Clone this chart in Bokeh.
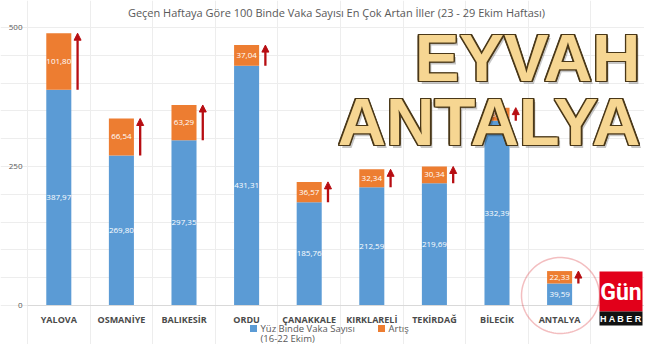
import numpy as np
from bokeh.plotting import figure
from bokeh.models import (ColumnDataSource, Range1d, FixedTicker, Label, Arrow, NormalHead,
                          BoxAnnotation, PolyAnnotation, LabelSet)
from bokeh.core.properties import value
from bokeh.embed import file_html
from bokeh.resources import INLINE

title = "Geçen Haftaya Göre 100 Binde Vaka Sayısı En Çok Artan İller (23 - 29 Ekim Haftası)"
cities = ["YALOVA", "OSMANİYE", "BALIKESİR", "ORDU", "ÇANAKKALE",
          "KIRKLARELİ", "TEKİRDAĞ", "BİLECİK", "ANTALYA"]
base = [387.97, 269.80, 297.35, 431.31, 185.76, 212.59, 219.69, 332.39, 39.59]
increase = [101.80, 66.54, 63.29, 37.04, 36.57, 32.34, 30.34, 23.50, 22.33]
y_ticks = [0, 250, 500]
legend_labels = ["Yüz Binde Vaka Sayısı", "(16-22 Ekim)", "Artış"]
headline = ["EYVAH", "ANTALYA"]

BLUE = "#5B9BD5"
ORANGE = "#ED7D31"
ARROW = "#B70D12"
GREY = "#595959"

idx = np.arange(len(cities))
base_a = np.array(base)
inc_a = np.array(increase)
total = base_a + inc_a
fmt = lambda v: f"{v:.2f}".replace(".", ",")

src = ColumnDataSource(dict(
    x=idx, base=base_a, total=total, inc=inc_a,
    base_mid=base_a / 2, inc_mid=base_a + inc_a / 2,
    base_txt=[fmt(v) for v in base], inc_txt=[fmt(v) for v in increase],
    ax=idx + 0.3,
))

# frame covers the whole figure; plot area placed through the ranges
W, H = 644, 344
slot = 62.6            # px per category
left_px, top_px, zero_px = 27, 27, 305
ppu = (zero_px - top_px) / 500.0
x0 = -0.5 - left_px / slot
y0 = -(H - zero_px) / ppu
p = figure(width=W, height=H, x_range=Range1d(x0, x0 + W / slot),
           y_range=Range1d(y0, y0 + H / ppu),
           output_backend="svg", toolbar_location=None,
           min_border_left=0, min_border_right=0, min_border_top=0, min_border_bottom=0)
p.outline_line_color = None
p.background_fill_color = "white"

# grid
p.ygrid.ticker = FixedTicker(ticks=list(range(0, 501, 50)))
p.ygrid.grid_line_color = "#EDEDED"
p.ygrid.bounds = (-0.5, 9.5)
p.xgrid.ticker = FixedTicker(ticks=[k - 0.5 for k in range(11)])
p.xgrid.grid_line_color = "#EDEDED"
p.xgrid.bounds = (0, 500)

# axes
p.yaxis.fixed_location = -0.5
p.yaxis.ticker = FixedTicker(ticks=y_ticks)
p.yaxis.axis_line_color = None
p.yaxis.major_tick_line_color = None
p.yaxis.minor_tick_line_color = None
p.yaxis.major_tick_out = 0
p.yaxis.minor_tick_out = 0
p.yaxis.major_label_standoff = 5
p.yaxis.major_label_text_font = "Open Sans"
p.yaxis.major_label_text_font_size = "8px"
p.yaxis.major_label_text_color = GREY

p.xaxis.fixed_location = 0
p.xaxis.bounds = (-0.5, 9.5)
p.xaxis.ticker = FixedTicker(ticks=list(idx))
p.xaxis.major_label_overrides = {int(i): c for i, c in zip(idx, cities)}
p.xaxis.axis_line_color = "#D9D9D9"
p.xaxis.major_tick_line_color = None
p.xaxis.minor_tick_line_color = None
p.xaxis.major_tick_out = 0
p.xaxis.minor_tick_out = 0
p.xaxis.major_label_standoff = 7
p.xaxis.major_label_text_font = "Open Sans"
p.xaxis.major_label_text_font_size = "9px"
p.xaxis.major_label_text_font_style = "bold"
p.xaxis.major_label_text_color = "#4A4A4A"

# bars
p.vbar(x="x", width=0.4, bottom=0, top="base", source=src, fill_color=BLUE, line_color=None)
p.vbar(x="x", width=0.4, bottom="base", top="total", source=src, fill_color=ORANGE, line_color=None)

for col, txt in (("base_mid", "base_txt"), ("inc_mid", "inc_txt")):
    p.add_layout(LabelSet(x="x", y=col, text=txt, source=src, text_align="center",
                          text_baseline="middle", text_color="white",
                          text_font=value("Open Sans"), text_font_size="8px"))

# arrows
p.add_layout(Arrow(x_start="ax", y_start="base", x_end="ax", y_end="total", source=src,
                   line_color=ARROW, line_width=2.3,
                   end=NormalHead(size=7, fill_color=ARROW, line_color=ARROW)))

# helper: pixel (from top-left) -> frame screen coords
def S(X, Y):
    return X, H - Y

def label(X, Y, text, **kw):
    sx, sy = S(X, Y)
    p.add_layout(Label(x=sx, y=sy, x_units="screen", y_units="screen", text=text, **kw))

def box(X1, X2, Y1, Y2, colr):
    l, t = S(X1, Y1)
    r, b = S(X2, Y2)
    p.add_layout(BoxAnnotation(left=l, right=r, bottom=b, top=t,
                               left_units="screen", right_units="screen",
                               bottom_units="screen", top_units="screen",
                               fill_color=colr, fill_alpha=1, line_color=None))

# title
label(336, 12, title, text_align="center", text_baseline="middle", text_font="Open Sans",
      text_font_size="11px", text_color=GREY)

# legend (manual)
box(249.5, 256.5, 324.5, 331.5, BLUE)
box(377.5, 384.5, 324.5, 331.5, ORANGE)
for txt, X, Y in ((legend_labels[0], 260, 328), (legend_labels[1], 260, 338),
                  (legend_labels[2], 388, 328)):
    label(X, Y, txt, text_align="left", text_baseline="middle", text_font="Open Sans",
          text_font_size="9.5px", text_color=GREY)

# red circle around ANTALYA
t = np.linspace(0, 2 * np.pi, 120)
cx, cy = S(560, 295)
p.add_layout(PolyAnnotation(xs=list(cx + 39 * np.cos(t)), ys=list(cy + 38 * np.sin(t)),
                            xs_units="screen", ys_units="screen",
                            fill_alpha=0, line_color="#D8282E", line_width=1.5))

# Gün Haber logo
box(599, 642, 271, 311, "#E2001A")
box(599, 642, 311, 325, "#111111")
label(620.5, 292, "Gün", text_align="center", text_baseline="middle",
      text_font="Roboto", text_font_style="bold",
      text_font_size="23px", text_color="white")
label(620.5, 318.5, "H A B E R", text_align="center", text_baseline="middle",
      text_font="Liberation Sans", text_font_style="bold",
      text_font_size="9px", text_color="white")

# headline overlay with outline
def outlined(text, X, Y):
    sx, sy = S(X, Y)
    common = dict(x=sx, y=sy, x_units="screen", y_units="screen", text=text,
                  text_align="right", text_baseline="middle",
                  text_font="Liberation Sans", text_font_style="bold", text_font_size="67px")
    p.add_layout(Label(x_offset=2.5, y_offset=-2.5, text_color="black", text_alpha=0.22, **common))
    for dx in (-1.4, 0, 1.4):
        for dy in (-1.4, 0, 1.4):
            if dx == 0 and dy == 0:
                continue
            p.add_layout(Label(x_offset=dx, y_offset=dy, text_color="#4A3818", **common))
    p.add_layout(Label(text_color="#F6D692", **common))

outlined(headline[0], 640, 57)
outlined(headline[1], 640, 121)

open("out.html", "w").write(file_html(p, INLINE))
